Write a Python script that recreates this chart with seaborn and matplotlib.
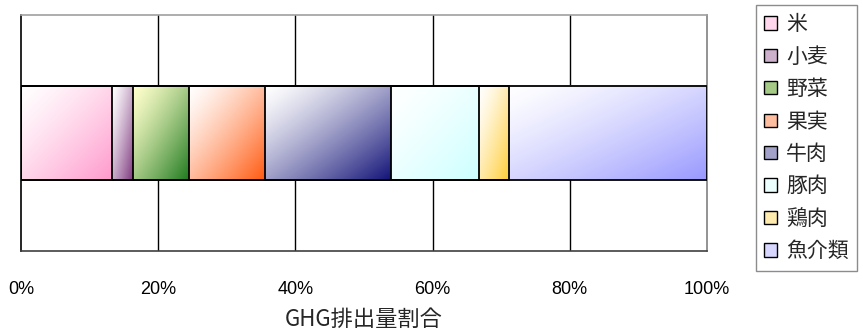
#GHG emission share, stacked horizontal bar with gradient fills

#Import modules
import matplotlib
matplotlib.use('Agg')
import matplotlib.pyplot as plt
from matplotlib.colors import to_rgb
from matplotlib.patches import Patch
import numpy as np
import pandas as pd
import seaborn as sb

#Data (percent of total)
foods = ['米', '小麦', '野菜', '果実', '牛肉', '豚肉', '鶏肉', '魚介類']
shares = [13.3, 3.0, 8.2, 11.1, 18.3, 12.8, 4.5, 28.8]
xticks = [0, 20, 40, 60, 80, 100]
xticklabels = ['0%', '20%', '40%', '60%', '80%', '100%']
xlabel = 'GHG排出量割合'

#Gradient colours (top-left -> bottom-right)
start_colors = ['#FFFFFF', '#FFFFFF', '#FFFFCC', '#FFFFFF', '#FFFFFF', '#FFFFFF', '#FFFFFF', '#FFFFFF']
end_colors = ['#FF99CC', '#7F3A80', '#1E7A1E', '#FF5A10', '#15157A', '#CCFFFF', '#FFCC33', '#9999FF']

sb.set_style('white')
plt.rcParams['font.family'] = ['Noto Sans CJK JP', 'DejaVu Sans']

df = pd.DataFrame({'food': foods, 'share': shares})
df['cum'] = df['share'].cumsum()
df['left'] = df['cum'] - df['share']
df['row'] = 'GHG'

fig = plt.figure(figsize=(8.63, 3.36), dpi=100)
ax = fig.add_axes([21 / 863, 1 - 250.7 / 336, (707 - 21) / 863, (250.7 - 14.7) / 336])

#Stacked bar: draw cumulative bars from longest to shortest
for i in reversed(range(len(df))):
    sb.barplot(x=[df['cum'][i] / df['share'].sum() * 100], y=[df['row'][i]], orient='h',
               width=0.8, ax=ax)
for p in ax.patches:
    p.set_facecolor('none')
    p.set_edgecolor('black')
    p.set_linewidth(1.3)
    p.set_zorder(4)

#Gradient fill for every segment
total = df['share'].sum()
p0 = ax.patches[0]
y0, h = p0.get_y(), p0.get_height()
u, v = np.meshgrid(np.linspace(0, 1, 80), np.linspace(0, 1, 40))
t = (((u + v) / 2) ** 1.3)[..., None]
for i in range(len(df)):
    c0 = np.array(to_rgb(start_colors[i]))
    c1 = np.array(to_rgb(end_colors[i]))
    img = c0 * (1 - t) + c1 * t
    L = df['left'][i] / total * 100
    R = df['cum'][i] / total * 100
    ax.imshow(img, extent=(L, R, y0 + h, y0), origin='upper', aspect='auto',
              interpolation='bilinear', zorder=3)

ax.set_xlim(0, 100)
ax.set_ylim(1, -1)
ax.set_yticks([])
ax.set_ylabel('')

#Grid and frame
for xv in xticks[1:-1]:
    ax.axvline(xv, color='black', lw=1, zorder=1)
ax.spines['left'].set_color('black')
ax.spines['bottom'].set_color('#404040')
ax.spines['top'].set_color('#A0A0A0')
ax.spines['right'].set_color('#808080')
for s in ax.spines.values():
    s.set_linewidth(1.2)
    s.set_visible(True)

ax.set_xticks(xticks)
ax.set_xticklabels(xticklabels, family=['Liberation Sans', 'DejaVu Sans'], fontsize=13)
ax.tick_params(axis='x', length=0, pad=22, colors='black')
ax.set_xlabel(xlabel, fontsize=16, labelpad=7)

#Legend
handles = []
for i in range(len(df)):
    c0 = np.array(to_rgb(start_colors[i]))
    c1 = np.array(to_rgb(end_colors[i]))
    mix = c0 * 0.6 + c1 * 0.4
    handles.append(Patch(facecolor=mix, edgecolor='black', linewidth=1.0, label=foods[i]))
leg = fig.legend(handles=handles, loc='upper left', bbox_to_anchor=(756 / 863, 1 - 5 / 336),
                 fontsize=15, frameon=True, fancybox=False, edgecolor='#707070',
                 handlelength=0.6, handleheight=0.6, handletextpad=0.45,
                 labelspacing=0.5, borderpad=0.4, borderaxespad=0)
leg.get_frame().set_linewidth(1.0)

fig.savefig('out.png', dpi=100)
